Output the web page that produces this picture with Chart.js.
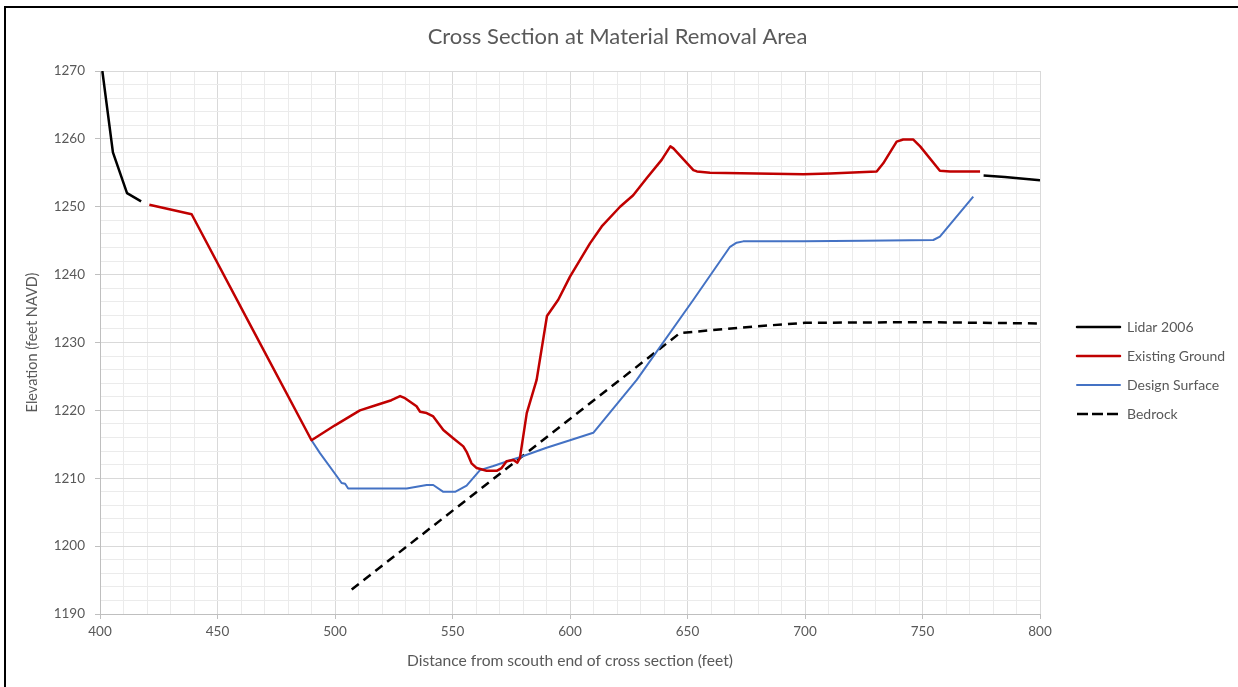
<!DOCTYPE html>
<html>
<head>
<meta charset="utf-8">
<script src="https://cdn.jsdelivr.net/npm/chart.js@4.4.1/dist/chart.umd.min.js"></script>
<style>
  html, body { margin: 0; padding: 0; background: #fff; overflow: hidden; }
  #frame { position: absolute; left: 4px; top: 6px; width: 1250px; height: 700px;
           border-left: 2px solid #000; border-top: 2px solid #000; }
  #wrap { position: absolute; left: 0; top: 0; width: 1238px; height: 687px; }
</style>
</head>
<body>
<div id="frame"></div>
<div id="wrap"><canvas id="c" width="1238" height="687"></canvas></div>
<script>
// Station (feet from south end) and elevation (feet NAVD) for each profile.
// Lidar 2006 is split in two pieces; the null elevation breaks the line.
const lidarDist = [401, 405.5, 411.5, 417.5, 600, 776, 785, 800];
const lidarElev = [1270, 1258, 1252, 1250.8, null, 1254.6, 1254.4, 1253.9];

const groundDist = [421, 430, 439, 465, 490, 500, 510.6, 517.7, 524, 527.7, 529.8, 534.7, 536.2, 539,
  541.8, 546.1, 550.3, 554.6, 556, 558.1, 560.3, 564.5, 568.8, 570.9, 573, 575.9, 577.6, 578.7,
  581.6, 585.8, 590.2, 595, 600, 608.5, 613.5, 621.3, 626.9, 632.6, 639, 642.7, 644, 652.5, 654,
  659.6, 699.3, 710.6, 730.5, 733.3, 739, 741.8, 746.1, 749, 757.4, 761.7, 774.5];
const groundElev = [1250.3, 1249.6, 1248.9, 1231.9, 1215.6, 1217.8, 1220.0, 1220.8, 1221.5, 1222.1,
  1221.8, 1220.6, 1219.8, 1219.6, 1219.1, 1217.1, 1215.9, 1214.7, 1213.9, 1212.2, 1211.5, 1211.1,
  1211.1, 1211.5, 1212.5, 1212.7, 1212.3, 1213.0, 1219.6, 1224.5, 1233.9, 1236.3, 1239.7, 1244.6,
  1247.1, 1250.0, 1251.7, 1254.2, 1256.9, 1258.9, 1258.6, 1255.4, 1255.2, 1255.0, 1254.8, 1254.9,
  1255.2, 1256.4, 1259.6, 1259.9, 1259.9, 1258.9, 1255.3, 1255.2, 1255.2];

const designDist = [490, 493.6, 501.4, 502.8, 504.3, 505.6, 530.5, 539, 541.8, 546.1, 551.1, 556,
  561.7, 567.4, 575.9, 578.7, 590, 600, 609.9, 628.4, 652.5, 668.1, 670.9, 673.7, 699.3, 724.8,
  754.6, 757.4, 771.6];
const designElev = [1215.6, 1213.7, 1210.0, 1209.3, 1209.2, 1208.5, 1208.5, 1209.0, 1209.0, 1208.0,
  1208.0, 1208.9, 1211.2, 1211.8, 1212.8, 1213.1, 1214.5, 1215.6, 1216.7, 1224.5, 1236.3, 1244.1,
  1244.7, 1244.9, 1244.9, 1245.0, 1245.1, 1245.6, 1251.5];

const bedrockDist = [507.1, 646.8, 660, 680, 700, 750, 800];
const bedrockElev = [1193.6, 1231.4, 1231.8, 1232.4, 1232.9, 1233.0, 1232.8];

const seriesNames = ['Lidar 2006', 'Existing Ground', 'Design Surface', 'Bedrock'];

const xMin = 400, xMax = 800, xMinor = 10, xMajor = 50;
const yMin = 1190, yMax = 1270, yMinor = 2, yMajor = 10;

const FONT = 'Lato, "Open Sans", "DejaVu Sans", sans-serif';
const TEXT = '#595959';
const MAJOR_GRID = '#d9d9d9';
const MINOR_GRID = '#ebebeb';
const AXIS_LINE = '#bfbfbf';

function pts(xs, ys) { return xs.map((x, i) => ({ x: x, y: ys[i] })); }

// Legend geometry: 43px line sample, plot area ends at x = 1040,
// a 22px gap, then the legend column.
const LEG_FONT = 14, LEG_PAD = 15, LEG_BOX = 43, PLOT_RIGHT = 1040, GAP = 22;
const meas = document.createElement('canvas').getContext('2d');
meas.font = LEG_FONT + 'px ' + FONT;
const legTextW = Math.max(...seriesNames.map(s => meas.measureText(s).width));
// Chart.js adds 10px to a vertical legend's fitted width
const legendWidth = LEG_PAD + LEG_BOX + LEG_FONT / 2 + legTextW + 10;
const rightPad = Math.max(0, 1238 - PLOT_RIGHT - GAP - legendWidth);

const isMajor = (v, step) => Math.abs(v / step - Math.round(v / step)) < 1e-6;

new Chart(document.getElementById('c'), {
  type: 'line',
  data: {
    datasets: [
      { label: seriesNames[0], data: pts(lidarDist, lidarElev), borderColor: '#000000',
        borderWidth: 2.5, spanGaps: false },
      { label: seriesNames[1], data: pts(groundDist, groundElev), borderColor: '#C00000',
        borderWidth: 2.5 },
      { label: seriesNames[2], data: pts(designDist, designElev), borderColor: '#4472C4',
        borderWidth: 2 },
      { label: seriesNames[3], data: pts(bedrockDist, bedrockElev), borderColor: '#000000',
        borderWidth: 2.5, borderDash: [9, 6] }
    ].map(d => Object.assign({ yAxisID: 'y', pointRadius: 0, pointHoverRadius: 0, tension: 0,
      fill: false, borderJoinStyle: 'round', backgroundColor: d.borderColor }, d))
  },
  options: {
    responsive: false,
    animation: false,
    events: [],
    layout: { padding: { top: 0, left: 0, bottom: 0, right: rightPad } },
    plugins: {
      tooltip: { enabled: false },
      title: {
        display: true,
        text: 'Cross Section at Material Removal Area',
        color: TEXT,
        font: { family: FONT, size: 22, weight: 'normal' },
        padding: { top: 23.8, bottom: 20.8 }
      },
      legend: {
        position: 'right',
        align: 'center',
        title: { display: true, text: '', font: { size: 12 }, padding: { top: 0, bottom: 39.6 } },
        labels: {
          boxWidth: LEG_BOX,
          boxHeight: 0,
          padding: LEG_PAD,
          color: TEXT,
          font: { family: FONT, size: LEG_FONT }
        }
      }
    },
    scales: {
      x: {
        type: 'linear',
        min: xMin, max: xMax,
        afterFit: s => { s.height = 73; },
        ticks: {
          stepSize: xMinor, autoSkip: false, maxRotation: 0, padding: 5,
          color: TEXT, font: { family: FONT, size: 13.5 },
          callback: v => isMajor(v, xMajor) ? String(v) : ''
        },
        grid: {
          drawTicks: true, tickLength: 5,
          color: c => (c.tick && isMajor(c.tick.value, xMajor)) ? MAJOR_GRID : MINOR_GRID,
          tickColor: c => (c.tick && isMajor(c.tick.value, xMajor)) ? AXIS_LINE : 'rgba(0,0,0,0)'
        },
        border: { color: AXIS_LINE, width: 1 },
        title: {
          display: true,
          text: 'Distance from scouth end of cross section (feet)',
          color: TEXT,
          font: { family: FONT, size: 15.6 },
          padding: { top: 0, bottom: 16.6 }
        }
      },
      y: {
        type: 'linear',
        position: 'left',
        min: yMin, max: yMax,
        afterFit: s => { s.width = 100; },
        ticks: {
          stepSize: yMinor, autoSkip: false, padding: 10,
          color: TEXT, font: { family: FONT, size: 13.5 },
          callback: v => isMajor(v, yMajor) ? String(v) : ''
        },
        grid: {
          drawTicks: true, tickLength: 5,
          color: c => (c.tick && isMajor(c.tick.value, yMajor)) ? MAJOR_GRID : MINOR_GRID,
          tickColor: c => (c.tick && isMajor(c.tick.value, yMajor)) ? AXIS_LINE : 'rgba(0,0,0,0)'
        },
        border: { color: AXIS_LINE, width: 1 },
        title: {
          display: true,
          text: 'Elevation (feet NAVD)',
          color: TEXT,
          font: { family: FONT, size: 14.5 },
          padding: { top: 23.3, bottom: 0 }
        }
      },
      // empty spacer between the plot and the legend
      gap: {
        type: 'linear',
        position: 'right',
        display: true,
        afterFit: s => { s.width = GAP; },
        ticks: { display: false },
        grid: { display: false, drawTicks: false },
        border: { display: false }
      }
    }
  }
});
</script>
</body>
</html>
